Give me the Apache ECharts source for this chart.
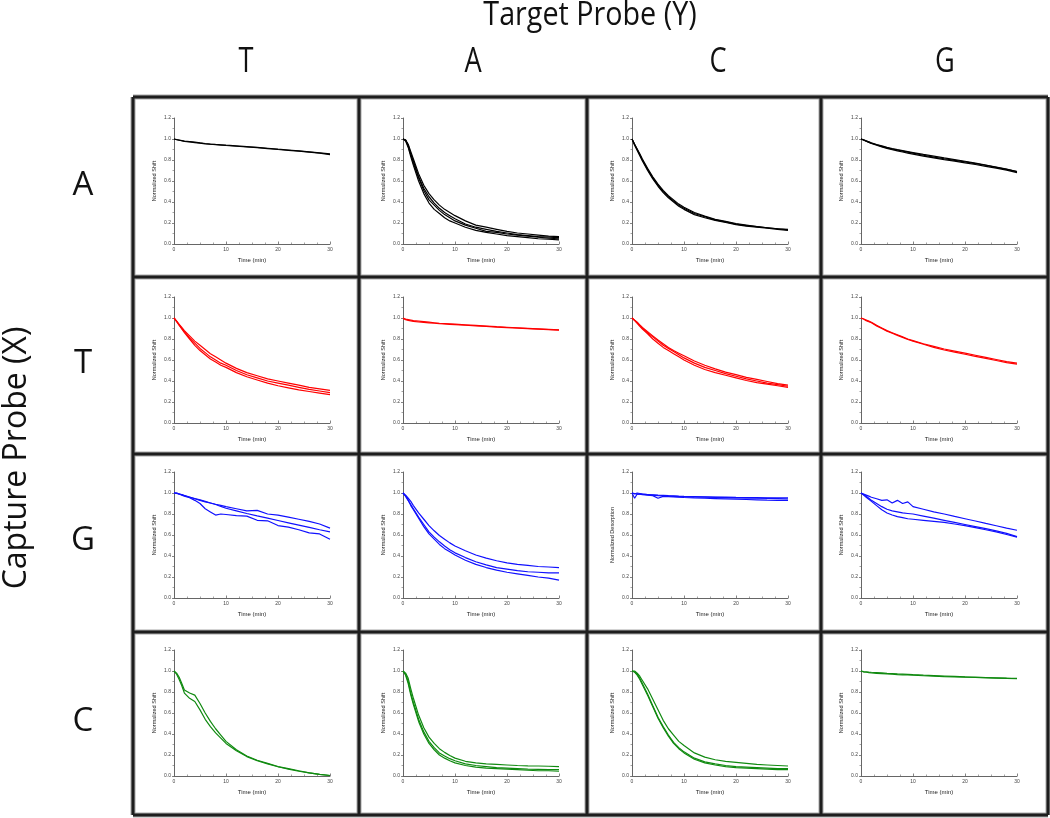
<!DOCTYPE html>
<html>
<head>
<meta charset="utf-8">
<script src="https://cdn.jsdelivr.net/npm/echarts@6/dist/echarts.min.js"></script>
<style>
html,body{margin:0;padding:0;background:#fff;}
#chart{width:1050px;height:818px;}
</style>
</head>
<body>
<div id="chart"></div>
<script>
// ---------- labels ----------
const colLabels = ['T', 'A', 'C', 'G'];          // Target Probe (Y)
const rowLabels = ['A', 'T', 'G', 'C'];          // Capture Probe (X)
const rowColors = ['#000000', '#ff0000', '#1010ff', '#108a10'];
const xTicks = [0, 10, 20, 30];
const yTicks = [0, 0.2, 0.4, 0.6, 0.8, 1.0, 1.2];

// ---------- time points (min) ----------
const TIME = [0, 0.5, 1, 1.5, 2, 3, 4, 5, 6, 7, 8, 9, 10, 12, 14, 16, 18, 20, 22, 24, 26, 28, 30];

// ---------- row A (black) ----------
const A_T = [
  [1.00,0.995,0.99,0.985,0.98,0.975,0.97,0.963,0.957,0.952,0.948,0.945,0.941,0.934,0.927,0.92,0.912,0.903,0.895,0.887,0.878,0.868,0.858],
  [1.00,0.993,0.988,0.983,0.978,0.972,0.966,0.96,0.954,0.95,0.946,0.942,0.938,0.931,0.924,0.917,0.909,0.90,0.892,0.884,0.875,0.865,0.852]
];
const A_A = [
  [1.0,0.99,0.94,0.86,0.79,0.64,0.53,0.45,0.39,0.34,0.30,0.27,0.24,0.19,0.16,0.14,0.12,0.105,0.09,0.08,0.07,0.065,0.06],
  [1.0,0.98,0.92,0.83,0.75,0.60,0.48,0.39,0.33,0.29,0.25,0.22,0.20,0.16,0.13,0.11,0.095,0.08,0.07,0.06,0.05,0.045,0.04],
  [1.0,0.99,0.95,0.88,0.81,0.67,0.56,0.48,0.42,0.37,0.33,0.30,0.27,0.22,0.18,0.16,0.14,0.12,0.105,0.095,0.085,0.075,0.07],
  [1.0,0.99,0.93,0.85,0.77,0.63,0.51,0.42,0.37,0.32,0.28,0.25,0.22,0.18,0.15,0.12,0.11,0.095,0.085,0.075,0.065,0.055,0.05]
];
const A_C = [
  [1.0,0.95,0.90,0.85,0.80,0.71,0.63,0.56,0.50,0.45,0.41,0.37,0.34,0.29,0.26,0.23,0.21,0.19,0.175,0.165,0.155,0.145,0.135],
  [1.0,0.94,0.89,0.84,0.79,0.70,0.62,0.55,0.49,0.44,0.40,0.36,0.33,0.28,0.25,0.225,0.205,0.185,0.17,0.16,0.15,0.14,0.13],
  [1.0,0.95,0.905,0.86,0.81,0.72,0.64,0.57,0.51,0.46,0.42,0.38,0.35,0.30,0.265,0.235,0.215,0.195,0.18,0.165,0.155,0.145,0.14]
];
const A_G = [
  [1.0,0.99,0.98,0.97,0.96,0.945,0.93,0.915,0.905,0.895,0.885,0.875,0.865,0.845,0.828,0.812,0.797,0.782,0.765,0.75,0.73,0.71,0.69],
  [1.0,0.99,0.978,0.968,0.958,0.94,0.925,0.91,0.898,0.887,0.876,0.866,0.856,0.837,0.82,0.804,0.789,0.773,0.757,0.74,0.722,0.703,0.68],
  [1.0,0.992,0.983,0.973,0.963,0.948,0.934,0.92,0.908,0.898,0.889,0.88,0.871,0.853,0.837,0.82,0.804,0.788,0.77,0.752,0.733,0.713,0.69]
];

// ---------- row T (red) ----------
const T_T = [
  [1.0,0.97,0.94,0.91,0.88,0.83,0.78,0.74,0.70,0.66,0.63,0.60,0.57,0.52,0.48,0.45,0.42,0.40,0.38,0.36,0.34,0.325,0.31],
  [1.0,0.97,0.935,0.90,0.87,0.81,0.76,0.71,0.67,0.63,0.60,0.57,0.55,0.50,0.46,0.43,0.40,0.38,0.36,0.34,0.32,0.305,0.29],
  [1.0,0.965,0.93,0.895,0.86,0.80,0.74,0.69,0.65,0.61,0.58,0.55,0.53,0.48,0.44,0.41,0.38,0.355,0.335,0.315,0.30,0.285,0.27]
];
const T_A = [
  [1.0,0.99,0.985,0.98,0.975,0.97,0.965,0.96,0.955,0.95,0.947,0.944,0.941,0.935,0.929,0.923,0.917,0.912,0.907,0.902,0.897,0.892,0.887],
  [0.995,0.985,0.978,0.972,0.968,0.962,0.958,0.954,0.95,0.946,0.943,0.94,0.937,0.931,0.925,0.92,0.914,0.909,0.904,0.899,0.894,0.889,0.885]
];
const T_C = [
  [1.0,0.98,0.955,0.93,0.905,0.86,0.82,0.78,0.74,0.71,0.68,0.65,0.62,0.57,0.53,0.50,0.47,0.445,0.42,0.40,0.38,0.365,0.35],
  [1.0,0.975,0.95,0.92,0.895,0.85,0.80,0.76,0.72,0.69,0.66,0.63,0.60,0.55,0.51,0.48,0.455,0.43,0.405,0.385,0.37,0.355,0.34],
  [1.0,0.98,0.96,0.935,0.91,0.87,0.83,0.79,0.755,0.72,0.69,0.665,0.64,0.59,0.55,0.515,0.485,0.46,0.435,0.415,0.395,0.375,0.36]
];
const T_G = [
  [1.0,0.99,0.98,0.97,0.96,0.93,0.905,0.88,0.86,0.84,0.82,0.80,0.785,0.755,0.73,0.705,0.685,0.665,0.645,0.625,0.605,0.585,0.57],
  [1.0,0.99,0.975,0.965,0.955,0.925,0.90,0.875,0.855,0.835,0.815,0.795,0.78,0.75,0.72,0.695,0.675,0.655,0.635,0.615,0.595,0.575,0.56]
];

// ---------- row G (blue) ----------
const G_T = [
  [1.0,1.0,0.99,0.985,0.975,0.96,0.945,0.93,0.915,0.905,0.893,0.882,0.87,0.85,0.83,0.835,0.80,0.79,0.77,0.75,0.73,0.705,0.665],
  [1.0,0.995,0.99,0.983,0.976,0.962,0.948,0.934,0.92,0.905,0.89,0.872,0.855,0.83,0.805,0.782,0.76,0.738,0.716,0.694,0.672,0.65,0.63],
  [1.0,1.0,0.99,0.98,0.97,0.955,0.93,0.90,0.85,0.82,0.79,0.80,0.795,0.785,0.78,0.74,0.735,0.69,0.675,0.65,0.62,0.61,0.56]
];
const G_A = [
  [1.0,0.98,0.95,0.92,0.88,0.81,0.75,0.69,0.64,0.595,0.56,0.525,0.495,0.45,0.41,0.38,0.355,0.335,0.32,0.31,0.30,0.295,0.29],
  [1.0,0.97,0.93,0.89,0.85,0.77,0.70,0.63,0.58,0.535,0.495,0.46,0.43,0.385,0.345,0.315,0.29,0.275,0.26,0.25,0.245,0.24,0.24],
  [1.0,0.97,0.93,0.88,0.84,0.76,0.68,0.61,0.56,0.51,0.47,0.44,0.41,0.36,0.32,0.29,0.265,0.245,0.23,0.215,0.20,0.19,0.17]
];
const G_C = [
  [1.0,0.99,1.0,0.995,0.99,0.985,0.983,0.98,0.978,0.975,0.973,0.97,0.968,0.966,0.964,0.962,0.96,0.958,0.957,0.956,0.955,0.955,0.955],
  [1.0,0.95,0.99,0.99,0.985,0.98,0.975,0.95,0.968,0.965,0.962,0.96,0.957,0.953,0.95,0.947,0.944,0.941,0.938,0.935,0.932,0.93,0.93],
  [1.0,0.995,0.99,0.99,0.99,0.985,0.98,0.975,0.972,0.97,0.968,0.966,0.964,0.962,0.96,0.958,0.956,0.954,0.952,0.95,0.948,0.946,0.944]
];
const G_G = [
  [1.0,0.99,0.98,0.97,0.96,0.945,0.93,0.935,0.905,0.93,0.90,0.915,0.87,0.845,0.82,0.80,0.777,0.755,0.733,0.71,0.688,0.666,0.645],
  [1.0,0.985,0.97,0.95,0.93,0.90,0.87,0.845,0.83,0.82,0.81,0.805,0.80,0.78,0.76,0.74,0.72,0.70,0.68,0.66,0.64,0.615,0.585],
  [1.0,0.98,0.96,0.94,0.92,0.88,0.84,0.81,0.79,0.775,0.765,0.755,0.75,0.74,0.73,0.72,0.705,0.69,0.67,0.65,0.63,0.605,0.58]
];

// ---------- row C (green) ----------
const C_T = [
  [1.0,0.98,0.94,0.88,0.82,0.79,0.77,0.69,0.60,0.52,0.45,0.39,0.33,0.25,0.19,0.15,0.12,0.09,0.07,0.05,0.03,0.015,0.005],
  [1.0,0.97,0.92,0.86,0.79,0.74,0.71,0.63,0.54,0.47,0.41,0.36,0.31,0.24,0.185,0.145,0.115,0.088,0.065,0.045,0.03,0.015,0.005]
];
const C_A = [
  [1.0,0.98,0.93,0.83,0.74,0.58,0.46,0.37,0.31,0.26,0.225,0.195,0.17,0.14,0.125,0.115,0.11,0.105,0.10,0.097,0.095,0.093,0.09],
  [1.0,0.97,0.90,0.79,0.70,0.54,0.42,0.33,0.27,0.22,0.19,0.165,0.145,0.115,0.10,0.09,0.08,0.075,0.07,0.065,0.063,0.06,0.06],
  [1.0,0.96,0.88,0.77,0.68,0.52,0.40,0.31,0.25,0.20,0.17,0.145,0.125,0.10,0.085,0.075,0.07,0.065,0.06,0.055,0.05,0.05,0.045]
];
const C_C = [
  [1.0,1.0,0.98,0.95,0.91,0.83,0.73,0.63,0.53,0.45,0.39,0.33,0.29,0.22,0.18,0.155,0.14,0.13,0.12,0.11,0.105,0.10,0.095],
  [1.0,0.99,0.97,0.93,0.88,0.78,0.67,0.56,0.47,0.39,0.32,0.27,0.23,0.17,0.135,0.115,0.10,0.09,0.085,0.08,0.075,0.07,0.07],
  [1.0,0.99,0.96,0.92,0.87,0.77,0.66,0.55,0.46,0.38,0.31,0.26,0.22,0.16,0.125,0.105,0.09,0.08,0.075,0.07,0.065,0.06,0.06]
];
const C_G = [
  [1.0,0.995,0.993,0.99,0.988,0.985,0.982,0.978,0.975,0.972,0.97,0.968,0.965,0.96,0.956,0.952,0.948,0.944,0.941,0.938,0.935,0.932,0.93],
  [1.0,0.99,0.988,0.985,0.982,0.978,0.975,0.972,0.969,0.966,0.964,0.962,0.96,0.955,0.951,0.947,0.944,0.941,0.938,0.935,0.932,0.929,0.926]
];

const PANELS = [
  [A_T, A_A, A_C, A_G],
  [T_T, T_A, T_C, T_G],
  [G_T, G_A, G_C, G_G],
  [C_T, C_A, C_C, C_G]
];
const Y_NAMES = [
  ['Normalized Shift','Normalized Shift','Normalized Shift','Normalized Shift'],
  ['Normalized Shift','Normalized Shift','Normalized Shift','Normalized Shift'],
  ['Normalized Shift','Normalized Shift','Normalized Desorption','Normalized Shift'],
  ['Normalized Shift','Normalized Shift','Normalized Shift','Normalized Shift']
];

// ---------- layout ----------
const panelX = [133, 359, 587, 821, 1048];
const panelY = [97, 277, 454, 632, 815];
const plotLeft = [174, 403, 632, 861];
const plotTop = [118, 297, 472, 650];
const plotW = 156, plotH = 126;

const grids = [], xAxes = [], yAxes = [], series = [];
const axisCol = '#666';
let gi = 0;
for (let r = 0; r < 4; r++) {
  for (let c = 0; c < 4; c++) {
    grids.push({ left: plotLeft[c], top: plotTop[r], width: plotW, height: plotH });
    xAxes.push({
      gridIndex: gi, type: 'value', min: xTicks[0], max: xTicks[xTicks.length - 1], interval: 10,
      name: 'Time (min)', nameLocation: 'middle', nameGap: 13,
      nameTextStyle: { fontSize: 6, color: '#222', fontFamily: 'Liberation Sans' },
      axisLine: { show: true, lineStyle: { color: axisCol, width: 1 } },
      axisTick: { show: true, inside: true, length: 2.5, lineStyle: { color: axisCol, width: 0.8 } },
      minorTick: { show: true, splitNumber: 4, length: 1.5, lineStyle: { color: axisCol, width: 0.6 } },
      splitLine: { show: false },
      axisLabel: { fontSize: 5, color: '#444', margin: 3, fontFamily: 'Liberation Sans' }
    });
    yAxes.push({
      gridIndex: gi, type: 'value', min: yTicks[0], max: yTicks[yTicks.length - 1], interval: 0.2,
      name: Y_NAMES[r][c], nameLocation: 'middle', nameGap: 17, nameRotate: 90,
      nameTextStyle: { fontSize: 5.5, color: '#222', fontFamily: 'Liberation Sans' },
      axisLine: { show: true, onZero: false, lineStyle: { color: axisCol, width: 1 } },
      axisTick: { show: true, inside: false, length: 2, lineStyle: { color: axisCol, width: 0.8 } },
      minorTick: { show: true, splitNumber: 2, length: 1.5, lineStyle: { color: axisCol, width: 0.6 } },
      splitLine: { show: false },
      axisLabel: { fontSize: 5, color: '#444', margin: 3, fontFamily: 'Liberation Sans',
                   formatter: v => v.toFixed(1) }
    });
    PANELS[r][c].forEach(arr => {
      series.push({
        type: 'line', xAxisIndex: gi, yAxisIndex: gi,
        data: TIME.map((t, i) => [t, arr[i]]),
        showSymbol: false, symbol: 'none', smooth: false,
        lineStyle: { color: rowColors[r], width: 1.2 },
        itemStyle: { color: rowColors[r] },
        silent: true, animation: false
      });
    });
    gi++;
  }
}

// ---------- decorations: panel frame + headers ----------
const graphic = [];
function frameLine(x1, y1, x2, y2) {
  graphic.push({ type: 'line', shape: { x1, y1, x2, y2 }, style: { stroke: '#a8a8a8', lineWidth: 5 }, z: 10 });
}
function frameLineCore(x1, y1, x2, y2) {
  graphic.push({ type: 'line', shape: { x1, y1, x2, y2 }, style: { stroke: '#1e1e1e', lineWidth: 3 }, z: 11 });
}
[frameLine, frameLineCore].forEach(fn => {
  panelX.forEach(x => fn(x, panelY[0], x, panelY[4]));
  panelY.forEach(y => fn(panelX[0], y, panelX[4], y));
});

const FONT = '"Open Sans", "Noto Sans", sans-serif';
graphic.push({
  type: 'text', x: 590, y: 16, scaleX: 0.87, z: 20,
  style: { text: 'Target Probe (Y)', fontSize: 33, fontFamily: FONT, fill: '#111',
           textAlign: 'center', textVerticalAlign: 'middle' }
});
const colCenters = [246, 473, 718, 945];
colLabels.forEach((t, i) => graphic.push({
  type: 'text', x: colCenters[i], y: 62, scaleX: 0.8, z: 20,
  style: { text: t, fontSize: 34, fontFamily: FONT, fill: '#111', textAlign: 'center', textVerticalAlign: 'middle' }
}));
const rowCenters = [186, 364, 541, 722];
rowLabels.forEach((t, i) => graphic.push({
  type: 'text', x: 83, y: rowCenters[i], z: 20,
  style: { text: t, fontSize: 33, fontFamily: FONT, fill: '#111', textAlign: 'center', textVerticalAlign: 'middle' }
}));
graphic.push({
  type: 'text', x: 17, y: 458, rotation: Math.PI / 2, z: 20,
  style: { text: 'Capture Probe (X)', fontSize: 32, fontFamily: FONT, fill: '#111',
           textAlign: 'center', textVerticalAlign: 'middle' }
});

const chart = echarts.init(document.getElementById('chart'), null, { renderer: 'canvas' });
chart.setOption({
  backgroundColor: '#ffffff',
  animation: false,
  grid: grids,
  xAxis: xAxes,
  yAxis: yAxes,
  series: series,
  graphic: graphic
});
</script>
</body>
</html>
